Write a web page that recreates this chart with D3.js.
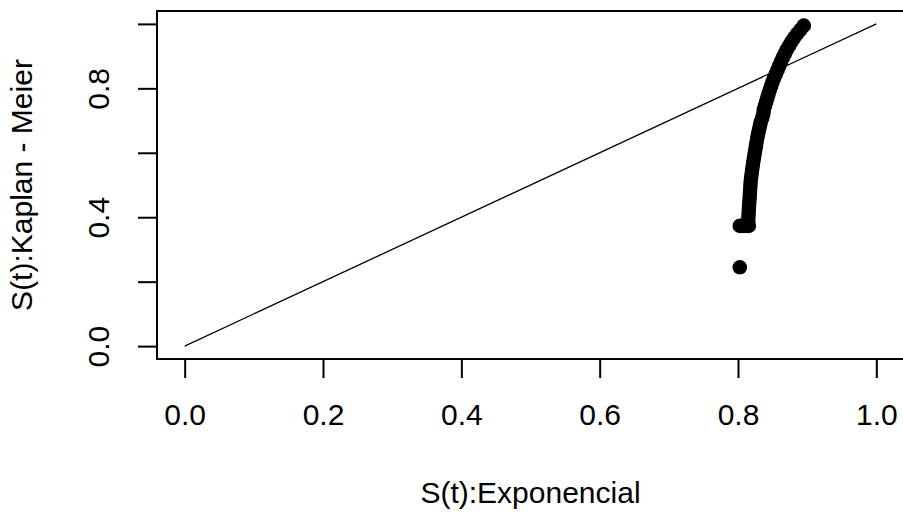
<!DOCTYPE html>
<html>
<head>
<meta charset="utf-8">
<script src="https://cdn.jsdelivr.net/npm/d3@7"></script>
<style>
  html, body { margin: 0; padding: 0; background: #fff; }
  svg { display: block; }
  text { font-family: "Liberation Sans", Arial, sans-serif; fill: #000; }
</style>
</head>
<body>
<svg id="chart" width="903" height="516"></svg>
<script>
// Exponential-model survival vs Kaplan-Meier estimate at each event time
const sExp = [
  0.8026, 0.8026, 0.8069, 0.8113, 0.8156,
  0.8149, 0.8150, 0.8153, 0.8156, 0.8160, 0.8163, 0.8168, 0.8172, 0.8175, 0.8179,
  0.8183, 0.8189, 0.8197, 0.8204, 0.8213, 0.8221, 0.8231, 0.8240, 0.8250, 0.8260,
  0.8269, 0.8279, 0.8291, 0.8304, 0.8317, 0.8330, 0.8351, 0.8366, 0.8373, 0.8390,
  0.8408, 0.8425, 0.8442, 0.8460, 0.8481, 0.8500, 0.8523, 0.8549, 0.8573, 0.8597,
  0.8621, 0.8648, 0.8677, 0.8705, 0.8740, 0.8775, 0.8814, 0.8857, 0.8905, 0.8951
];
const sKM = [
  0.2446, 0.3730, 0.3730, 0.3730, 0.3730,
  0.3855, 0.3979, 0.4103, 0.4228, 0.4352, 0.4476, 0.4601, 0.4725, 0.4849, 0.4974,
  0.5098, 0.5222, 0.5347, 0.5471, 0.5595, 0.5720, 0.5844, 0.5968, 0.6093, 0.6217,
  0.6341, 0.6466, 0.6590, 0.6714, 0.6839, 0.6963, 0.7087, 0.7212, 0.7336, 0.7460,
  0.7585, 0.7709, 0.7833, 0.7958, 0.8082, 0.8206, 0.8331, 0.8455, 0.8579, 0.8704,
  0.8828, 0.8952, 0.9077, 0.9201, 0.9325, 0.9450, 0.9574, 0.9698, 0.9823, 0.9946
];

// Reference line y = x
const refLine = [0, 1];

// Axis ticks and the labels that are printed
const xTicks = [0, 0.2, 0.4, 0.6, 0.8, 1.0];
const yTicks = [0, 0.2, 0.4, 0.6, 0.8, 1.0];
const yLabelled = [0, 0.4, 0.8];

const xTitle = "S(t):Exponencial";
const yTitle = "S(t):Kaplan - Meier";

const W = 903, H = 516;
const plot = { left: 157, right: 904, top: 11, bottom: 359 };
const fontSize = 30;
const fmt = d3.format(".1f");

const svg = d3.select("#chart");

// 4% padding around the [0,1] data range on both axes
const x = d3.scaleLinear().domain([-0.04, 1.04]).range([plot.left, plot.right]);
const y = d3.scaleLinear().domain([-0.04, 1.04]).range([plot.bottom, plot.top]);

// Diagonal reference line
svg.append("path")
  .datum(refLine)
  .attr("d", d3.line().x(d => x(d)).y(d => y(d)))
  .attr("fill", "none")
  .attr("stroke", "#000")
  .attr("stroke-width", 1.3);

// Points
const pts = sExp.map((v, i) => ({ x: v, y: sKM[i] }));
svg.append("g")
  .selectAll("circle")
  .data(pts)
  .join("circle")
  .attr("cx", d => x(d.x))
  .attr("cy", d => y(d.y))
  .attr("r", 7.3)
  .attr("fill", "#000");

// Bottom axis
const gx = svg.append("g")
  .attr("transform", `translate(0,${plot.bottom})`)
  .call(d3.axisBottom(x).tickValues(xTicks).tickSize(19).tickFormat(fmt));
gx.select(".domain").remove();
gx.selectAll(".tick line").attr("stroke", "#000").attr("stroke-width", 2);
gx.selectAll(".tick text")
  .attr("y", 66)
  .attr("dy", null)
  .attr("font-size", fontSize)
  .attr("font-family", null)
  .attr("fill", "#000");

// Left axis
const gy = svg.append("g")
  .attr("transform", `translate(${plot.left},0)`)
  .call(d3.axisLeft(y).tickValues(yTicks).tickSize(19)
    .tickFormat(d => yLabelled.includes(d) ? fmt(d) : ""));
gy.select(".domain").remove();
gy.selectAll(".tick line").attr("stroke", "#000").attr("stroke-width", 2);
gy.selectAll(".tick text")
  .attr("x", null)
  .attr("dy", null)
  .attr("text-anchor", "middle")
  .attr("transform", "translate(-48,0) rotate(-90)")
  .attr("font-size", fontSize)
  .attr("font-family", null)
  .attr("fill", "#000");

// Plot frame
svg.append("rect")
  .attr("x", plot.left)
  .attr("y", plot.top)
  .attr("width", plot.right - plot.left)
  .attr("height", plot.bottom - plot.top)
  .attr("fill", "none")
  .attr("stroke", "#000")
  .attr("stroke-width", 2);

// Axis titles
svg.append("text")
  .attr("x", (plot.left + plot.right) / 2)
  .attr("y", 503)
  .attr("text-anchor", "middle")
  .attr("font-size", fontSize)
  .text(xTitle);

svg.append("text")
  .attr("transform", `translate(32,${(plot.top + plot.bottom) / 2}) rotate(-90)`)
  .attr("text-anchor", "middle")
  .attr("font-size", fontSize)
  .text(yTitle);
</script>
</body>
</html>
